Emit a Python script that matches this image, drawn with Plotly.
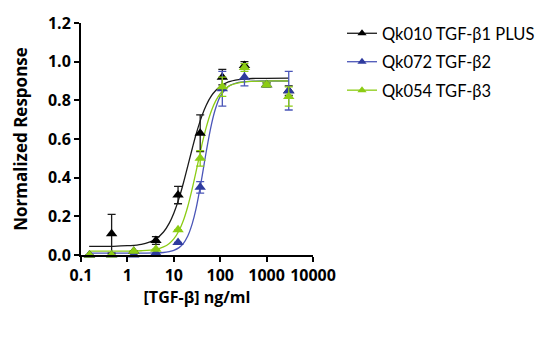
import plotly.graph_objects as go

# Concentrations (ng/ml), 3-fold dilution series
conc = [0.152, 0.457, 1.372, 4.115, 12.35, 37.04, 111.1, 333.3, 1000, 3000]

# Mean normalized responses
qk010 = [0.00, 0.11, 0.02, 0.075, 0.31, 0.63, 0.92, 0.98, 0.88, 0.85]
qk072 = [0.00, 0.00, 0.00, 0.01, 0.065, 0.35, 0.86, 0.92, 0.88, 0.85]
qk054 = [0.00, 0.00, 0.02, 0.03, 0.13, 0.50, 0.87, 0.97, 0.88, 0.82]

# Error bar half-widths
qk010_err = [0.0, 0.10, 0.0, 0.02, 0.045, 0.095, 0.04, 0.02, 0.01, 0.025]
qk072_err = [0.0, 0.0, 0.0, 0.0, 0.0, 0.03, 0.09, 0.045, 0.01, 0.10]
qk054_err = [0.0, 0.0, 0.0, 0.0, 0.0, 0.04, 0.05, 0.02, 0.01, 0.05]

# Fitted curves
fit_x = [0.15, 0.5, 1, 2, 4, 6, 8, 10, 13, 16, 20, 25, 30, 40, 50, 65, 80,
         100, 150, 250, 500, 1000, 3000]
fit_qk010 = [0.045, 0.045, 0.048, 0.055, 0.081, 0.119, 0.165, 0.216, 0.294,
             0.370, 0.460, 0.551, 0.622, 0.717, 0.775, 0.824, 0.851, 0.872,
             0.895, 0.907, 0.913, 0.914, 0.915]
fit_qk072 = [0.010, 0.010, 0.010, 0.010, 0.011, 0.013, 0.018, 0.024, 0.038,
             0.059, 0.098, 0.162, 0.237, 0.396, 0.534, 0.677, 0.760, 0.819,
             0.872, 0.893, 0.899, 0.900, 0.900]
fit_qk054 = [0.020, 0.020, 0.020, 0.022, 0.029, 0.042, 0.060, 0.083, 0.127,
             0.177, 0.251, 0.344, 0.429, 0.566, 0.660, 0.747, 0.797, 0.834,
             0.872, 0.890, 0.898, 0.900, 0.900]

names = ["Qk010 TGF-β1 PLUS", "Qk072 TGF-β2", "Qk054 TGF-β3"]
colors = ["#000000", "#2e3a9e", "#8ccc14"]
line_colors = ["#1a1a1a", "#4a55b8", "#8ccc14"]

x_ticks = [0.1, 1, 10, 100, 1000, 10000]
x_ticktext = ["0.1", "1", "10", "100", "1000", "10000"]
y_ticks = [0.0, 0.2, 0.4, 0.6, 0.8, 1.0, 1.2]

AX_FONT = "Open Sans, sans-serif"

fig = go.Figure()

series = [(qk010, qk010_err, fit_qk010), (qk072, qk072_err, fit_qk072),
          (qk054, qk054_err, fit_qk054)]

for i, (vals, errs, fit) in enumerate(series):
    fig.add_trace(go.Scatter(
        x=fit_x, y=fit, mode="lines", line=dict(color=line_colors[i], width=1.3, shape="spline"),
        showlegend=False, hoverinfo="skip", cliponaxis=False))

for i, (vals, errs, fit) in enumerate(series):
    fig.add_trace(go.Scatter(
        x=conc, y=vals, mode="markers",
        marker=dict(symbol="triangle-up", size=10, color=colors[i]),
        error_y=dict(type="data", array=errs, visible=True, color=line_colors[i],
                     thickness=1.3, width=4),
        showlegend=False, cliponaxis=False))

for i in range(3):
    fig.add_trace(go.Scatter(
        x=[None], y=[None], mode="lines+markers", name=names[i],
        line=dict(color=line_colors[i], width=1.3),
        marker=dict(symbol="triangle-up", size=8, color=colors[i]),
        legendgroup=f"g{i}"))

fig.update_layout(
    width=552, height=341,
    margin=dict(l=81, r=236, t=21, b=86),
    plot_bgcolor="white", paper_bgcolor="white",
    font=dict(family=AX_FONT, color="#000000"),
    xaxis=dict(
        type="log", range=[-1, 4], tickvals=x_ticks, ticktext=x_ticktext,
        showgrid=False, zeroline=False, showline=True, linecolor="#000000", linewidth=2,
        ticks="outside", ticklen=5, tickwidth=2, tickcolor="#000000",
        tickfont=dict(size=16, family=AX_FONT, weight="bold"),
        title=dict(text="[TGF-β] ng/ml", font=dict(size=16, family=AX_FONT, weight="bold"), standoff=2),
    ),
    yaxis=dict(
        range=[0, 1.2], tickvals=y_ticks, tickformat=".1f",
        showgrid=False, zeroline=False, showline=True, linecolor="#000000", linewidth=2,
        ticks="outside", ticklen=5, tickwidth=2, tickcolor="#000000",
        tickfont=dict(size=16, family=AX_FONT, weight="bold"),
        title=dict(text="Normalized Response", font=dict(size=17, family=AX_FONT, weight="bold"), standoff=16),
    ),
    legend=dict(
        x=1.125, y=1.03, xanchor="left", yanchor="top",
        font=dict(size=16.5, family="Lato, sans-serif"),
        tracegroupgap=4, bgcolor="rgba(0,0,0,0)",
    ),
)

fig.write_html("out.html")
